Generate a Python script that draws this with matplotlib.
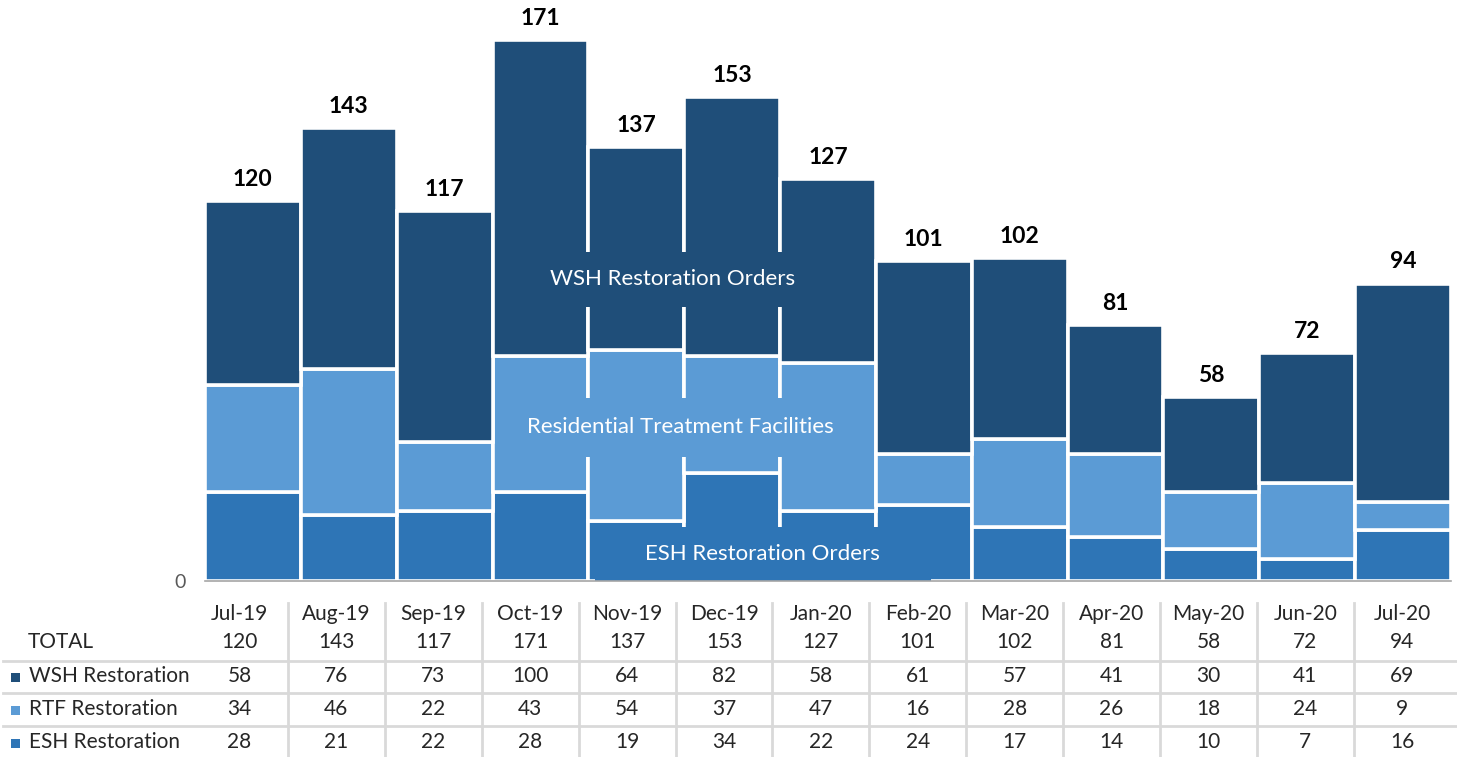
import matplotlib.pyplot as plt
from matplotlib.patches import Rectangle
import numpy as np

plt.rcParams['font.family'] = ['Lato', 'DejaVu Sans']

# data
months = ["Jul-19", "Aug-19", "Sep-19", "Oct-19", "Nov-19", "Dec-19", "Jan-20",
          "Feb-20", "Mar-20", "Apr-20", "May-20", "Jun-20", "Jul-20"]
wsh = [58, 76, 73, 100, 64, 82, 58, 61, 57, 41, 30, 41, 69]
rtf = [34, 46, 22, 43, 54, 37, 47, 16, 28, 26, 18, 24, 9]
esh = [28, 21, 22, 28, 19, 34, 22, 24, 17, 14, 10, 7, 16]
totals = [120, 143, 117, 171, 137, 153, 127, 101, 102, 81, 58, 72, 94]
row_names = ["WSH Restoration", "RTF Restoration", "ESH Restoration"]

c_wsh = '#1F4E79'
c_rtf = '#5B9BD5'
c_esh = '#2E75B6'
txt = '#262626'

W, H = 1457, 757
fig = plt.figure(figsize=(W / 100, H / 100), dpi=100)

# chart area (pixel layout of the reference)
ax = fig.add_axes([205 / W, (H - 581) / H, 1246 / W, 576 / H])
x = np.arange(len(months))
esh_a, rtf_a, wsh_a = np.array(esh), np.array(rtf), np.array(wsh)
kw = dict(width=1.0, edgecolor='white', linewidth=2.6)
ax.bar(x, esh_a, color=c_esh, **kw)
ax.bar(x, rtf_a, bottom=esh_a, color=c_rtf, **kw)
ax.bar(x, wsh_a, bottom=esh_a + rtf_a, color=c_wsh, **kw)

for i, t in enumerate(totals):
    ax.annotate(str(t), (i, t), xytext=(0, 8), textcoords='offset points',
                ha='center', va='bottom', fontsize=16.5, fontweight='bold', color='black')

# in-chart series labels on boxes
labels = [
    ("WSH Restoration Orders", c_wsh, (2.53, 86.6, 6.24, 104.0), (4.38, 95.4)),
    ("Residential Treatment Facilities", c_rtf, (2.53, 39.2, 6.39, 57.8), (4.46, 48.7)),
    ("ESH Restoration Orders", c_esh, (3.57, 0.0, 7.07, 17.1), (5.32, 8.5)),
]
for name, col, (x0, y0, x1, y1), (tx, ty) in labels:
    ax.add_patch(Rectangle((x0, y0), x1 - x0, y1 - y0, facecolor=col,
                           edgecolor='none', zorder=3))
    ax.text(tx, ty, name, ha='center', va='center', color='white',
            fontsize=16, zorder=4)

ax.set_xlim(-0.5, len(months) - 0.5)
ax.set_ylim(0, 182)
ax.set_xticks([])
ax.set_yticks([0])
ax.set_yticklabels(['0'], fontsize=14, color='#595959')
ax.tick_params(axis='y', length=0, pad=14)
for s in ['top', 'right', 'left']:
    ax.spines[s].set_visible(False)
ax.spines['bottom'].set_color('#A6A6A6')
ax.spines['bottom'].set_linewidth(1.2)
ax.spines['bottom'].set_zorder(5)

# data table below the chart, in pixel coordinates
tab = fig.add_axes([0, 0, 1, 1])
tab.set_xlim(0, W)
tab.set_ylim(H, 0)
tab.axis('off')
grid = '#D9D9D9'
col_x0, pitch = 239.5, 96.9
for k in range(len(months) - 1):
    xl = col_x0 + (k + 0.5) * pitch
    tab.plot([xl, xl], [603, H], color=grid, lw=2)
for yl in [661, 693, 726]:
    tab.plot([3, W], [yl, yl], color=grid, lw=2)

for k, m in enumerate(months):
    cx = col_x0 + k * pitch
    tab.text(cx, 614, m, ha='center', va='center', fontsize=15, color=txt)
    tab.text(cx, 642, str(totals[k]), ha='center', va='center', fontsize=15, color=txt)
    for r, vals in enumerate([wsh, rtf, esh]):
        tab.text(cx, [676, 709, 742][r], str(vals[k]), ha='center', va='center',
                 fontsize=15, color=txt)

tab.text(28, 642, "TOTAL", ha='left', va='center', fontsize=15, color=txt)
for r, (name, col) in enumerate(zip(row_names, [c_wsh, c_rtf, c_esh])):
    yc = [676, 709, 742][r]
    tab.add_patch(Rectangle((11, yc - 3), 9, 9, facecolor=col, edgecolor='none'))
    tab.text(29, yc, name, ha='left', va='center', fontsize=15, color=txt)

fig.savefig('out.png', dpi=100)
